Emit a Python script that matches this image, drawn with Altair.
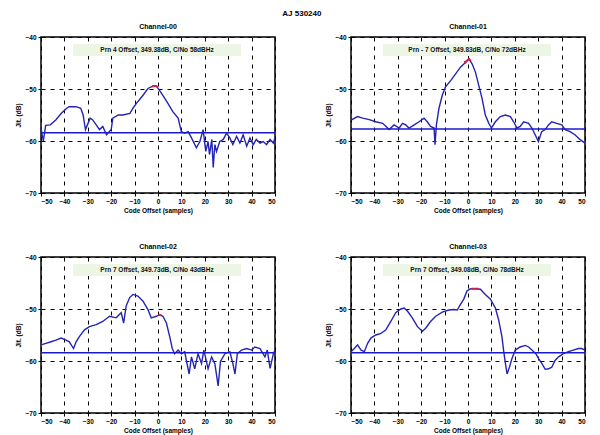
import altair as alt
import pandas as pd

# ---- data ----
x0 = [-50, -49, -48, -46, -43.6, -41.4, -39, -38, -35, -33, -32, -31, -29, -28, -26.4, -25, -23.6, -22, -20,
      -19.3, -17, -15, -12, -10.7, -9.3, -6.4, -4.3, -2, -0.7, 0.7, 2, 4.3, 6.4, 8.6, 10, 11.4, 12.9, 14.3,
      16.4, 17.9, 19.3, 20.4, 21.4, 22, 23, 23.6, 24.3, 25, 26.4, 27.9, 29.3, 30.7, 32, 33.6, 35, 36.4, 37.9,
      39.3, 40.7, 42, 43.6, 45, 46.4, 47.9, 49.3, 50]
y0 = [-57.5, -60.0, -57.0, -56.9, -55.9, -54.7, -53.7, -53.4, -53.4, -53.7, -55.0, -57.8, -55.6, -55.9, -56.9,
      -57.8, -57.2, -58.8, -57.8, -55.6, -55.0, -55.0, -54.7, -53.7, -52.8, -51.2, -49.9, -49.4, -49.4, -50.3,
      -51.2, -52.8, -54.4, -55.6, -58.2, -58.5, -58.2, -59.4, -61.3, -60.1, -57.8, -62.0, -60.1, -62.6, -59.7,
      -65.1, -60.7, -62.0, -60.1, -59.7, -58.5, -59.4, -60.7, -59.1, -60.4, -58.8, -61.0, -59.4, -60.7, -59.7,
      -60.4, -60.1, -60.7, -59.7, -60.4, -59.4]

x1 = [-50, -47.2, -45, -42.2, -39.4, -36.5, -35, -33.7, -31.6, -29.4, -28, -26.6, -25.2, -23, -20.9, -18.8,
      -17.4, -16, -14.5, -14.1, -13.5, -12.4, -11, -9.6, -7.4, -5.3, -3.2, -1.1, 0.4, 1.8, 3.2, 4.6, 6, 7.4,
      8.9, 10, 11.7, 13.8, 16, 18.1, 19.5, 20.9, 22.3, 23.8, 25.9, 27.3, 28.7, 30.1, 31.5, 33, 34.4, 35.8,
      37.9, 40.1, 41.5, 43.6, 45.7, 47.8, 50]
y1 = [-56.0, -55.3, -55.6, -55.9, -56.3, -56.6, -57.2, -57.8, -56.9, -57.5, -56.6, -56.9, -57.5, -56.9, -56.3,
      -55.6, -56.3, -57.2, -57.5, -60.7, -56.9, -53.7, -51.2, -49.6, -48.4, -47.1, -45.8, -44.9, -44.2, -45.2,
      -46.8, -49.3, -51.8, -55.0, -56.6, -57.5, -56.3, -55.3, -55.0, -55.3, -56.3, -57.5, -57.2, -56.3, -56.6,
      -57.5, -58.8, -60.1, -58.2, -57.8, -56.9, -56.3, -56.6, -56.9, -57.8, -58.2, -58.8, -59.7, -60.4]

x2 = [-50, -47.9, -45.7, -43.6, -41.4, -39.3, -37.9, -36.1, -35, -33.6, -31.4, -29.3, -26.4, -23.6, -20.7,
      -17.9, -15.7, -14.7, -13.6, -12.1, -10.7, -8.6, -6.4, -4.3, -2.9, -0.7, 0.7, 2.1, 3.6, 5, 6.1, 7.1, 8.6,
      10, 11.4, 12.4, 13.3, 14.3, 15.7, 17.1, 18.6, 19.6, 21.4, 22.9, 24.3, 25.7, 26.7, 28.6, 30.7, 32, 32.9,
      33.9, 35.7, 37.9, 40, 41.4, 43.6, 45.7, 46.7, 47.9, 49.3, 50]
y2 = [-56.9, -56.6, -56.3, -56.0, -55.6, -56.0, -56.3, -57.6, -56.3, -55.3, -54.0, -53.4, -53.0, -52.4, -51.4,
      -51.7, -50.7, -52.7, -49.4, -47.8, -47.2, -47.5, -48.5, -50.1, -51.7, -51.4, -51.1, -51.4, -52.7, -55.3,
      -57.6, -58.6, -57.9, -58.6, -58.2, -60.5, -62.5, -59.2, -61.5, -58.6, -60.5, -57.9, -61.5, -59.2, -60.5,
      -64.8, -60.1, -58.6, -58.2, -60.5, -62.5, -58.6, -57.9, -57.6, -57.9, -57.3, -57.6, -59.2, -57.9, -61.4,
      -58.6, -57.9]

x3 = [-50, -48.6, -47.2, -45.7, -44.3, -42.9, -41.5, -39.4, -37.2, -35.1, -33, -30.9, -28.7, -27.3, -25.9,
      -23.8, -21.6, -19.5, -18.1, -16, -13.8, -11, -8.2, -6, -4.6, -3.2, -1.8, -0.4, 1.1, 3.2, 5.3, 7.4, 9.6,
      11.7, 13.1, 14.5, 15.2, 16, 16.7, 17.7, 18.8, 20.2, 22.3, 24.5, 25.9, 27.3, 29, 30.1, 31.6, 33, 34.4,
      35.8, 37.2, 38.7, 40.8, 42.9, 45, 47.2, 48.6, 50]
y3 = [-58.2, -57.6, -56.9, -57.9, -58.2, -56.6, -55.6, -55.0, -54.7, -54.0, -52.4, -50.7, -50.0, -49.8, -50.4,
      -51.7, -53.4, -54.3, -53.7, -52.4, -51.4, -50.6, -50.2, -50.1, -50.2, -49.1, -48.1, -46.5, -46.1, -46.1,
      -46.2, -47.2, -48.1, -49.8, -52.1, -55.3, -57.9, -60.5, -62.5, -61.2, -59.5, -57.9, -57.3, -57.0, -57.3,
      -57.9, -58.6, -59.5, -60.5, -61.6, -61.5, -61.2, -59.9, -59.2, -58.6, -58.2, -57.9, -57.6, -57.6, -57.9]

channels = ["Channel-00", "Channel-01", "Channel-02", "Channel-03"]
levels = [-58.4, -57.7, -58.4, -58.4]
peak_x = [[-2.5, -2, -0.7, 0], [-1.5, -1.1, 0.4, 1.2], [0.2, 0.7, 1.3], [1.5, 3.2, 4.5]]
peak_y = [[-49.6, -49.4, -49.4, -49.7], [-44.6, -44.9, -44.2, -44.6], [-51.2, -51.1, -51.2], [-46.1, -46.1, -46.1]]
notes = ["Prn 4 Offset, 349.38dB, C/No 58dBHz",
         "Prn - 7 Offset, 349.83dB, C/No 72dBHz",
         "Prn 7 Offset, 349.73dB, C/No 43dBHz",
         "Prn 7 Offset, 349.08dB, C/No 78dBHz"]
series_x = [x0, x1, x2, x3]
series_y = [y0, y1, y2, y3]
x_ticks = [-50, -40, -30, -20, -10, 0, 10, 20, 30, 40, 50]
y_ticks = [-70, -60, -50, -40]
suptitle = "AJ 530240"

FONT = "Liberation Sans"
W, H = 234, 156


def panel(i):
    df = pd.DataFrame({"x": series_x[i], "y": series_y[i]})
    pk = pd.DataFrame({"x": peak_x[i], "y": peak_y[i]})
    xs = alt.Scale(domain=[-50, 50], nice=False, zero=False)
    ys = alt.Scale(domain=[-70, -40], nice=False, zero=False)
    xax = alt.Axis(values=x_ticks, title="Code Offset (samples)", grid=True, labelOverlap=False)
    yax = alt.Axis(values=y_ticks, title="Jit. (dB)", grid=True, labelOverlap=False)
    base = alt.Chart(df)
    line = base.mark_line(color="#2424b4", strokeWidth=1.4).encode(
        x=alt.X("x:Q", scale=xs, axis=xax), y=alt.Y("y:Q", scale=ys, axis=yax))
    rule = alt.Chart(pd.DataFrame({"y": [levels[i]]})).mark_rule(color="#1a1ad0", strokeWidth=1.6).encode(
        y=alt.Y("y:Q", scale=ys, axis=yax))
    peak = alt.Chart(pk).mark_line(color="#d0204a", strokeWidth=2).encode(
        x=alt.X("x:Q", scale=xs, axis=xax), y=alt.Y("y:Q", scale=ys, axis=yax))
    nd = pd.DataFrame({"t": [notes[i]]})
    box = alt.Chart(nd).mark_rect(color="#edf5e4").encode(
        x=alt.value(32), x2=alt.value(200), y=alt.value(7), y2=alt.value(19))
    txt = alt.Chart(nd).mark_text(font=FONT, fontSize=6.5, fontWeight="bold", color="#111").encode(
        x=alt.value(116), y=alt.value(13), text="t:N")
    return alt.layer(box, line, rule, peak, txt).properties(
        width=W, height=H,
        title=alt.TitleParams(channels[i], fontSize=7, font=FONT, fontWeight="bold", offset=4))


row1 = alt.hconcat(panel(0), panel(1), spacing=46)
row2 = alt.hconcat(panel(2), panel(3), spacing=46)
chart = alt.vconcat(row1, row2, spacing=27).properties(
    title=alt.TitleParams(suptitle, fontSize=8, font=FONT, fontWeight="bold", anchor="middle", offset=4),
    padding={"left": 7, "top": 2, "right": 2, "bottom": 2},
).configure_view(stroke="black", strokeWidth=1.5).configure_axis(
    labelFont=FONT, labelFontSize=6.5, labelFontWeight="bold", labelColor="black",
    titleFont=FONT, titleFontSize=6.5, titleFontWeight="bold", titleColor="black",
    gridColor="black", gridDash=[4, 5], gridOpacity=1, gridWidth=1,
    domain=False, tickColor="black", tickSize=3, labelPadding=2, titlePadding=3,
    labelOverlap=False,
).configure_title(color="black")

chart.save("out.html", embed_options={"renderer": "svg", "actions": False})
